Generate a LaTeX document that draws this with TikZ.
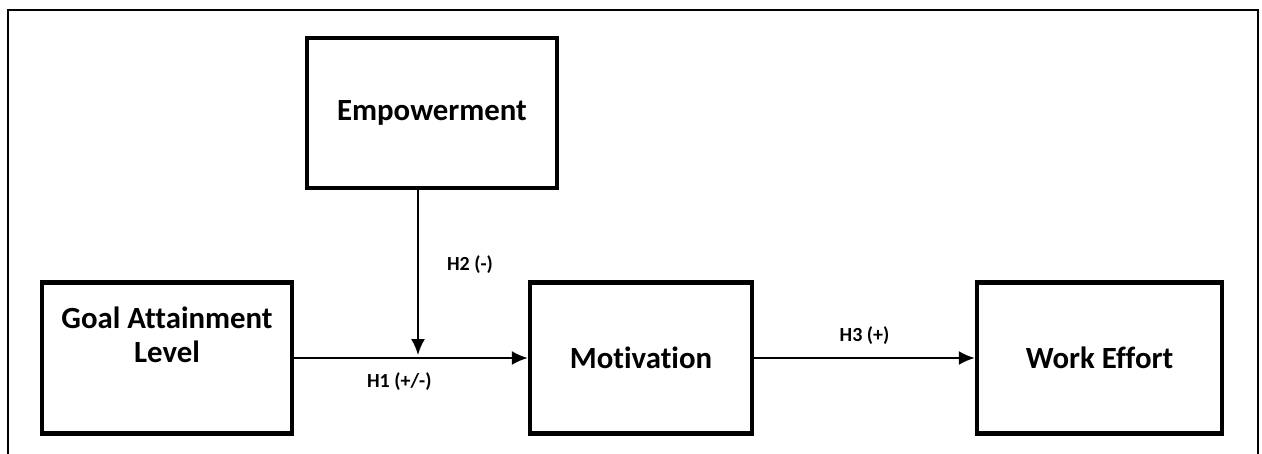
\documentclass[tikz,border=0pt]{standalone}
\usepackage{fontspec}
\setmainfont[Ligatures=NoCommon]{Carlito}
\usepackage{tikz}
\usetikzlibrary{positioning,arrows.meta,calc}

\begin{document}
\begin{tikzpicture}[
		x=0.5pt,y=-0.5pt,
		factor/.style={rectangle,draw,line width=2.2pt,inner sep=0pt,
			font=\fontsize{15.4}{17}\selectfont\bfseries,align=center},
		path link/.style={line width=1pt,-{Latex[length=8pt,width=7pt]}},
		hyp/.style={font=\fontsize{10}{12}\selectfont\bfseries,inner sep=1pt}
		]
		\useasboundingbox (0,0) rectangle (1262,454);
		% open frame round the model
		\draw[line width=1.1pt] (8,454) -- (8,10) -- (1258,10) -- (1258,454);
		% the four constructs
		\node[factor,minimum width=125pt,minimum height=75pt] (empow) at (432,113) {Empowerment};
		\node[factor,minimum width=125pt,minimum height=75.5pt] (goal) at (167,358) {};
		\node[align=center,font=\fontsize{15.4}{17}\selectfont\bfseries] (goaltext) at (167,335) {Goal Attainment\\Level};
		\node[factor,minimum width=111pt,minimum height=75.5pt] (motiv) at (641,358) {Motivation};
		\node[factor,minimum width=122.5pt,minimum height=75.5pt] (effort) at (1099.5,358) {Work Effort};
		\coordinate (meet) at (418,355);
		% hypotheses
		\draw[path link] (goal) -- node[hyp,pos=0.45,below=6pt] (h1) {H1 (+/-)} (motiv);
		\draw[path link] (empow.south -| meet) -- node[hyp,right=13pt,pos=0.45] (h2) {H2 (-)} (meet);
		\draw[path link] (motiv) -- node[hyp,above=5pt] (h3) {H3 (+)} (effort);
	\end{tikzpicture}
\end{document}
